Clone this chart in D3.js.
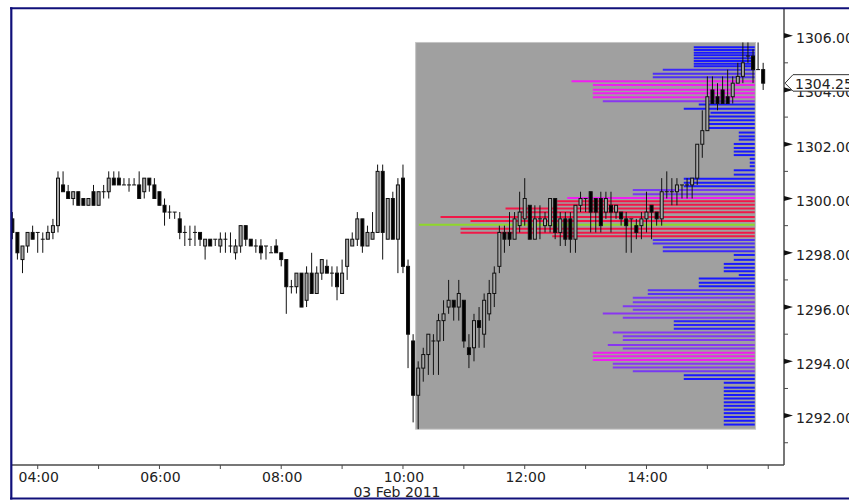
<!DOCTYPE html>
<html><head><meta charset="utf-8">
<script src="https://cdn.jsdelivr.net/npm/d3@7"></script>
<style>body{margin:0;background:#fff;} svg{display:block;font-family:"DejaVu Sans",sans-serif;}</style>
</head><body><svg id="c" width="849" height="500"></svg>
<script>
// ---------- data ----------
const startTime = "03:35";
const stepMinutes = 5;
const open = [1299.25,1298.75,1297.75,1298.25,1298.75,1298.75,1298.5,1298.5,1298.75,1299.0,
1300.5,1300.25,1300.0,1300.25,1300.0,1299.75,1300.25,1299.75,1300.25,1300.25,
1300.75,1300.75,1300.5,1300.5,1300.5,1300.5,1300.25,1300.75,1300.5,1300.25,
1299.75,1299.5,1299.5,1299.25,1298.75,1298.5,1298.75,1298.75,1298.25,1298.5,
1298.5,1298.25,1298.5,1298.25,1298.0,1298.25,1299.0,1298.5,1298.25,1298.25,
1298.25,1298.0,1298.25,1298.0,1297.75,1296.75,1296.75,1297.25,1296.25,1297.25,
1296.5,1297.25,1297.5,1297.25,1297.25,1296.5,1297.5,1298.25,1298.5,1299.25,
1298.25,1298.5,1298.75,1301.0,1298.5,1300.0,1298.5,1300.75,1297.5,1294.75,
1292.75,1293.75,1294.25,1294.75,1294.75,1295.5,1296.0,1296.25,1296.0,1296.25,
1294.5,1294.5,1295.5,1295.0,1295.75,1296.5,1297.5,1298.75,1298.75,1298.5,
1299.0,1299.25,1299.75,1298.5,1299.25,1299.0,1299.0,1300.0,1298.75,1299.25,
1299.25,1298.5,1299.75,1300.0,1300.25,1300.0,1300.0,1299.5,1299.75,1299.5,
1299.5,1299.25,1299.25,1299.0,1299.0,1299.25,1299.75,1299.5,1299.25,1300.25,
1300.25,1300.25,1300.5,1300.5,1300.5,1300.75,1302.0,1302.5,1304.0,1303.75,
1304.0,1303.75,1303.75,1304.25,1304.5,1305.25,1305.25,1304.75,1304.75];
const high = [1299.5,1298.75,1298.25,1298.75,1299.0,1298.75,1298.75,1299.0,1299.25,1301.0,
1301.0,1300.5,1300.25,1300.25,1300.0,1300.0,1300.5,1300.25,1300.5,1301.0,
1301.0,1301.0,1300.75,1300.75,1300.75,1301.0,1300.75,1300.75,1300.75,1300.25,
1300.0,1299.75,1299.5,1299.5,1299.0,1299.0,1299.0,1298.75,1298.5,1298.5,
1298.5,1298.75,1298.75,1298.75,1298.5,1299.0,1299.0,1298.5,1298.5,1298.5,
1298.25,1298.25,1298.5,1298.0,1297.75,1297.0,1297.25,1297.25,1297.5,1298.0,
1297.5,1297.75,1297.75,1297.5,1297.5,1297.75,1298.5,1298.75,1299.5,1299.25,
1299.0,1299.5,1301.25,1301.25,1300.0,1300.25,1300.75,1301.25,1297.75,1295.0,
1294.0,1294.5,1295.0,1295.0,1295.75,1296.25,1297.0,1296.25,1297.0,1296.25,
1295.0,1295.75,1296.0,1296.5,1297.0,1297.5,1299.0,1299.0,1299.5,1299.5,
1300.25,1300.75,1299.75,1299.75,1299.75,1299.5,1300.0,1300.0,1299.5,1299.5,
1299.5,1299.75,1300.25,1300.0,1300.25,1300.0,1300.25,1300.25,1300.25,1299.75,
1299.5,1299.5,1299.25,1299.25,1299.5,1300.25,1299.75,1299.5,1300.75,1301.0,
1300.75,1300.75,1300.5,1300.75,1300.75,1302.0,1303.25,1304.5,1304.5,1304.25,
1304.5,1304.75,1304.5,1305.0,1305.75,1305.75,1305.5,1305.75,1305.0];
const low = [1298.5,1297.75,1297.25,1298.0,1298.5,1298.0,1298.0,1298.5,1298.5,1298.75,
1300.25,1300.0,1299.75,1299.75,1299.75,1299.75,1299.75,1299.75,1300.0,1300.0,
1300.5,1300.5,1300.5,1300.25,1300.5,1300.0,1300.0,1300.25,1300.0,1299.75,
1299.0,1299.25,1299.25,1298.5,1298.25,1298.25,1298.25,1298.25,1297.75,1298.25,
1298.25,1298.0,1298.0,1298.0,1297.75,1298.0,1298.25,1298.25,1298.0,1297.75,
1297.75,1298.0,1298.0,1297.5,1295.75,1296.5,1296.5,1296.0,1296.0,1296.5,
1296.5,1297.0,1297.25,1296.75,1296.25,1296.5,1297.0,1298.25,1298.25,1298.0,
1298.25,1298.5,1298.75,1297.75,1298.5,1298.5,1297.25,1297.25,1293.75,1291.75,
1291.5,1293.25,1293.5,1293.5,1293.5,1294.75,1295.75,1295.5,1295.5,1294.5,
1293.75,1294.0,1294.5,1294.5,1295.5,1296.0,1297.25,1298.0,1298.25,1298.5,
1298.75,1299.0,1298.5,1298.5,1298.5,1298.75,1298.75,1298.5,1298.25,1298.25,
1298.0,1298.0,1299.5,1299.5,1298.75,1298.75,1298.75,1299.25,1298.75,1299.25,
1299.0,1298.0,1298.0,1298.5,1298.5,1298.75,1298.5,1299.0,1299.0,1300.0,
1299.75,1299.75,1300.0,1300.0,1300.0,1300.5,1301.5,1302.5,1303.5,1303.25,
1303.5,1303.5,1303.5,1304.25,1304.25,1305.0,1304.25,1304.75,1304.0];
const close = [1298.75,1298.0,1298.25,1298.75,1298.5,1298.75,1298.5,1298.75,1299.0,1300.75,
1300.25,1300.0,1300.25,1299.75,1299.75,1300.0,1299.75,1300.25,1300.25,1300.75,
1300.5,1300.5,1300.5,1300.5,1300.5,1300.0,1300.75,1300.5,1300.0,1299.75,
1299.5,1299.5,1299.5,1298.75,1298.75,1298.5,1298.75,1298.5,1298.5,1298.25,
1298.5,1298.5,1298.5,1298.25,1298.25,1299.0,1298.5,1298.25,1298.25,1298.0,
1298.25,1298.0,1298.0,1297.75,1296.75,1296.75,1297.25,1296.0,1297.25,1296.5,
1297.25,1297.75,1297.25,1297.25,1296.75,1297.25,1298.5,1298.5,1299.25,1298.25,
1298.75,1298.75,1301.0,1298.75,1300.0,1298.5,1300.5,1297.5,1295.0,1292.75,
1293.75,1294.25,1295.0,1294.75,1295.5,1295.75,1296.25,1296.0,1296.5,1294.75,
1294.25,1295.5,1295.25,1296.25,1296.5,1297.25,1298.75,1298.5,1298.5,1299.25,
1299.5,1300.0,1298.5,1299.25,1299.25,1299.25,1300.0,1298.75,1299.25,1298.5,
1298.5,1299.75,1300.0,1300.0,1299.5,1299.5,1299.0,1300.0,1299.5,1299.75,
1299.25,1299.0,1299.25,1298.75,1299.25,1299.5,1299.5,1299.25,1300.25,1300.25,
1300.25,1300.5,1300.5,1300.5,1300.75,1302.0,1302.5,1303.75,1303.5,1303.5,
1303.5,1303.5,1304.25,1304.5,1305.0,1305.25,1304.75,1304.75,1304.25];

// volume profile (10:15 - 15:45)
const profileFrom = "10:15", profileTo = "15:45";
const profilePrice = [1305.57,1305.47,1305.37,1305.28,1305.17,1305.07,1304.97,1304.87,1304.74,1304.60,
1304.47,1304.32,1304.18,1304.01,1303.88,1303.73,1303.58,1303.46,1303.31,1303.16,
1303.02,1302.88,1302.75,1302.60,1302.43,1302.29,1302.17,1302.01,1301.86,1301.73,
1301.60,1301.46,1301.32,1301.19,1301.04,1300.88,1300.73,1300.58,1300.45,1300.31,
1300.16,1300.02,1299.90,1299.77,1299.63,1299.49,1299.32,1299.17,1299.03,1298.89,
1298.74,1298.61,1298.47,1298.34,1298.20,1298.06,1297.92,1297.74,1297.59,1297.45,
1297.32,1297.18,1297.05,1296.90,1296.77,1296.62,1296.48,1296.34,1296.18,1296.03,
1295.90,1295.76,1295.61,1295.48,1295.34,1295.20,1295.06,1294.92,1294.79,1294.60,
1294.47,1294.32,1294.19,1294.05,1293.91,1293.77,1293.63,1293.49,1293.35,1293.21,
1293.03,1292.90,1292.76,1292.63,1292.49,1292.36,1292.22,1292.09,1291.95,1291.81,1291.67];
const profileVolume = [610,610,610,610,610,610,610,610,920,1020,
1020,1833,1620,1620,1620,1620,1520,560,710,443,
460,460,460,460,160,160,160,210,210,210,
210,50,50,50,210,210,710,710,710,1220,
1220,1876,1976,1976,2493,2343,3143,2843,3360,2943,
2943,2026,1020,1020,920,920,210,210,310,310,
310,160,560,560,560,1070,1070,1220,1220,1320,
1220,1520,1320,810,810,810,1420,1320,1320,1470,
1320,1620,1620,1620,1420,1420,1220,710,710,310,
310,310,310,310,310,310,310,310,310,310,310];

const lastPrice = 1304.25;
const dateLabel = "03 Feb 2011";
const priceTicks = d3.range(1291, 1307, 1);          // every point, labels on even
const timeTickHours = d3.range(4, 17, 1);            // every hour, labels every 2h

// ---------- layout ----------
const W = 849, H = 500;
const plotL = 12, plotR = 784, plotT = 9, plotB = 465;
const svg = d3.select("#c");
svg.append("rect").attr("width", W).attr("height", H).attr("fill", "#fff");

const parseT = d3.timeParse("%H:%M:%S");
const parseHM = d3.timeParse("%H:%M");
const x = d3.scaleTime()
  .domain([parseT("03:34:40"), parseT("16:15:32")])
  .range([plotL, plotR]);
const y = d3.scaleLinear()
  .domain([1290.18, 1307.02])
  .range([plotB, plotT - 1]);

const t0 = parseHM(startTime);
const candles = open.map((o, i) => ({
  t: d3.timeMinute.offset(t0, i * stepMinutes),
  o, h: high[i], l: low[i], c: close[i]
}));
const stepPx = x(d3.timeMinute.offset(t0, stepMinutes)) - x(t0);

// clip
svg.append("defs").append("clipPath").attr("id", "plotClip")
  .append("rect").attr("x", plotL).attr("y", plotT).attr("width", plotR - plotL).attr("height", plotB - plotT);
const plot = svg.append("g").attr("clip-path", "url(#plotClip)");

// ---------- profile box ----------
const pFrom = parseHM(profileFrom), pTo = parseHM(profileTo);
const inProfile = candles.filter(d => d.t >= pFrom && d.t <= pTo);
const boxL = x(pFrom) - stepPx / 2, boxR = x(pTo) + stepPx / 2;
const boxTop = y(d3.max(inProfile, d => d.h)), boxBot = y(d3.min(inProfile, d => d.l));
plot.append("rect")
  .attr("x", boxL).attr("y", boxTop).attr("width", boxR - boxL).attr("height", boxBot - boxTop)
  .attr("fill", "#a0a0a0").attr("stroke", "#c4c4c4").attr("stroke-width", 1);

const maxVol = d3.max(profileVolume);
const xv = d3.scaleLinear().domain([0, maxVol]).range([boxR - 0.8, boxL + 3.2]);
const volColor = d3.scaleLinear()
  .domain([700, 1000, 1250, 1540, 1600, 1890, 1960])
  .range(["#1818ff", "#4a2ef6", "#7d3af2", "#8a36f0", "#f01ef0", "#f01ef0", "#f01848"])
  .clamp(true);
const rows = profilePrice.map((p, i) => ({ p, v: profileVolume[i] }));
plot.append("g").selectAll("line").data(rows).join("line")
  .attr("x1", d => xv(d.v)).attr("x2", xv(0))
  .attr("y1", d => y(d.p)).attr("y2", d => y(d.p))
  .attr("stroke", d => d.v === maxVol ? "#8fd82a" : volColor(d.v))
  .attr("stroke-width", 2);

// ---------- candles ----------
const cg = plot.append("g");
const bodyW = 3;
cg.selectAll("line.wick").data(candles).join("line").attr("class", "wick")
  .attr("x1", d => x(d.t)).attr("x2", d => x(d.t))
  .attr("y1", d => y(d.h)).attr("y2", d => y(d.l))
  .attr("stroke", "#111").attr("stroke-width", 1);
cg.selectAll("rect.body").data(candles).join("rect").attr("class", "body")
  .attr("x", d => x(d.t) - bodyW / 2)
  .attr("y", d => y(Math.max(d.o, d.c)))
  .attr("width", bodyW)
  .attr("height", d => Math.max(0.01, Math.abs(y(d.o) - y(d.c))))
  .attr("fill", d => d.c >= d.o ? "#a8a8a8" : "#000")
  .attr("stroke", "#111").attr("stroke-width", 1);

// ---------- axes ----------
const axisCol = "#4a4a4a", textCol = "#222";
svg.append("line").attr("x1", plotR).attr("x2", plotR).attr("y1", plotT - 1).attr("y2", plotB)
  .attr("stroke", axisCol).attr("stroke-width", 1.5);
svg.append("line").attr("x1", plotL).attr("x2", plotR).attr("y1", plotB).attr("y2", plotB)
  .attr("stroke", axisCol).attr("stroke-width", 1.5);

// y ticks
const yt = svg.append("g");
priceTicks.forEach(p => {
  const yy = y(p);
  if (p % 2 === 0) {
    yt.append("path").attr("d", `M${plotR},${yy - 2.6}L${plotR + 9},${yy}L${plotR},${yy + 2.6}Z`).attr("fill", "#111");
    yt.append("text").attr("x", plotR + 12).attr("y", yy + 7.5)
      .attr("font-size", 14).attr("fill", textCol).text(d3.format(".2f")(p));
  } else {
    yt.append("line").attr("x1", plotR).attr("x2", plotR + 4).attr("y1", yy).attr("y2", yy)
      .attr("stroke", axisCol).attr("stroke-width", 1);
  }
});

// x ticks (labels every 2 hours, only where the label fits inside the plot)
const xt = svg.append("g");
timeTickHours.forEach(hh => {
  const t = parseHM(d3.format("02")(hh) + ":00");
  const xx = x(t);
  xt.append("line").attr("x1", xx).attr("x2", xx).attr("y1", plotB).attr("y2", plotB + 4)
    .attr("stroke", axisCol).attr("stroke-width", 1);
  if (hh % 2 === 0 && xx + 22 < plotR) {
    xt.append("text").attr("x", xx + 1).attr("y", plotB + 17).attr("text-anchor", "middle")
      .attr("font-size", 14).attr("fill", textCol).text(d3.timeFormat("%H:%M")(t));
  }
});
svg.append("text").attr("x", x(parseHM("10:00")) - 6).attr("y", plotB + 32).attr("text-anchor", "middle")
  .attr("font-size", 14).attr("fill", textCol).text(dateLabel);

// last price label
const ly = y(lastPrice);
svg.append("path")
  .attr("d", `M${plotR + 1},${ly}L${plotR + 9},${ly - 8.5}L${W + 5},${ly - 8.5}L${W + 5},${ly + 8}L${plotR + 9},${ly + 8}Z`)
  .attr("fill", "#fff").attr("stroke", "#333").attr("stroke-width", 1);
svg.append("text").attr("x", plotR + 11).attr("y", ly + 5.5)
  .attr("font-size", 14).attr("fill", textCol).text(d3.format(".2f")(lastPrice));

// frame
const navy = "#10107a";
svg.append("line").attr("x1", 10).attr("x2", W).attr("y1", 8.3).attr("y2", 8.3).attr("stroke", navy).attr("stroke-width", 2);
svg.append("line").attr("x1", 11.3).attr("x2", 11.3).attr("y1", 7.3).attr("y2", 499.5).attr("stroke", navy).attr("stroke-width", 2.2);
svg.append("line").attr("x1", 10).attr("x2", W).attr("y1", 498.6).attr("y2", 498.6).attr("stroke", navy).attr("stroke-width", 2);
</script></body></html>
